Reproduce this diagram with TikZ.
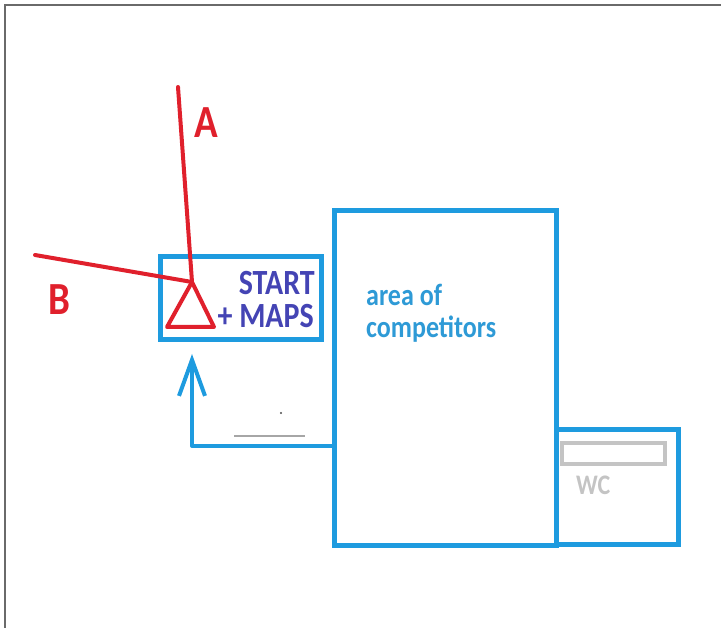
\documentclass[tikz,border=0pt]{standalone}
\usepackage{fontspec}
\setmainfont{Carlito}
\usetikzlibrary{arrows.meta}
\definecolor{skyb}{HTML}{1E9BDF}
\definecolor{skytext}{HTML}{2E9AD6}
\definecolor{indigo}{HTML}{4444B4}
\definecolor{redl}{HTML}{E0202C}
\definecolor{grayl}{HTML}{C4C4C4}
\definecolor{framec}{HTML}{6A6A6A}
\newcommand{\vstretch}[1]{\scalebox{1}[1.18]{#1}}
\begin{document}
\begin{tikzpicture}[x=1pt,y=-1pt,
  bluebox/.style={draw=skyb,line width=5pt,inner sep=0pt},
  redline/.style={draw=redl,line width=4pt,line cap=round,line join=round},
  lbl/.style={font=\bfseries\fontsize{#1}{#1}\selectfont,inner sep=0pt}]
\useasboundingbox (0,0) rectangle (721,628);
% frame
\coordinate (f1) at (721,5);
\coordinate (f2) at (5,5);
\coordinate (f3) at (5,628);
\draw[framec,line width=2pt] (f1) -- (f2) -- (f3);
% boxes
\node[bluebox,minimum width=161pt,minimum height=83pt] (start) at (240.5,298.5) {};
\node[bluebox,minimum width=222pt,minimum height=334pt] (area) at (445,378) {};
\node[bluebox,minimum width=122pt,minimum height=114pt] (wc) at (617,487) {};
\node[draw=grayl,line width=4pt,minimum width=103pt,minimum height=21pt,inner sep=0pt] (shelf) at (613.5,454) {};
% texts
\node[lbl=30,text=indigo,anchor=base east] (t1) at (315,295) {\vstretch{START}};
\node[lbl=30,text=indigo,anchor=base east] (t2) at (314,328) {\vstretch{+ MAPS}};
\node[lbl=26,text=skytext,anchor=base west] (t3) at (366,306) {\vstretch{area of}};
\node[lbl=26,text=skytext,anchor=base west] (t4) at (366,338) {\vstretch{competitors}};
\node[lbl=24,text=grayl,anchor=base west] (t5) at (576,494) {\vstretch{WC}};
\node[lbl=39,text=redl] (la) at (206,123) {\vstretch{A}};
\node[lbl=39,text=redl] (lb) at (59,300) {\vstretch{B}};
% red lines and triangle
\coordinate (apex) at (192,282);
\coordinate (aend) at (178,87);
\coordinate (bend) at (35,255);
\coordinate (bl) at (167,327);
\coordinate (br) at (214,327);
\draw[redline] (aend) -- (apex);
\draw[redline] (bend) -- (apex);
\draw[redline] (apex) -- (bl) -- (br) -- cycle;
% arrow
\coordinate (exit) at (333,446);
\coordinate (tip) at (192,354);
\draw[skyb,line width=4pt,line join=round,-{Straight Barb[length=36pt,width=26pt,line width=4pt]}] (exit) -| (tip);
% small marks
\coordinate (m1) at (234,436);
\coordinate (m2) at (305,436);
\draw[gray!70,line width=1.2pt] (m1) -- (m2);
\fill[black!70] (281,413) circle (1.2pt);
\end{tikzpicture}
\end{document}
